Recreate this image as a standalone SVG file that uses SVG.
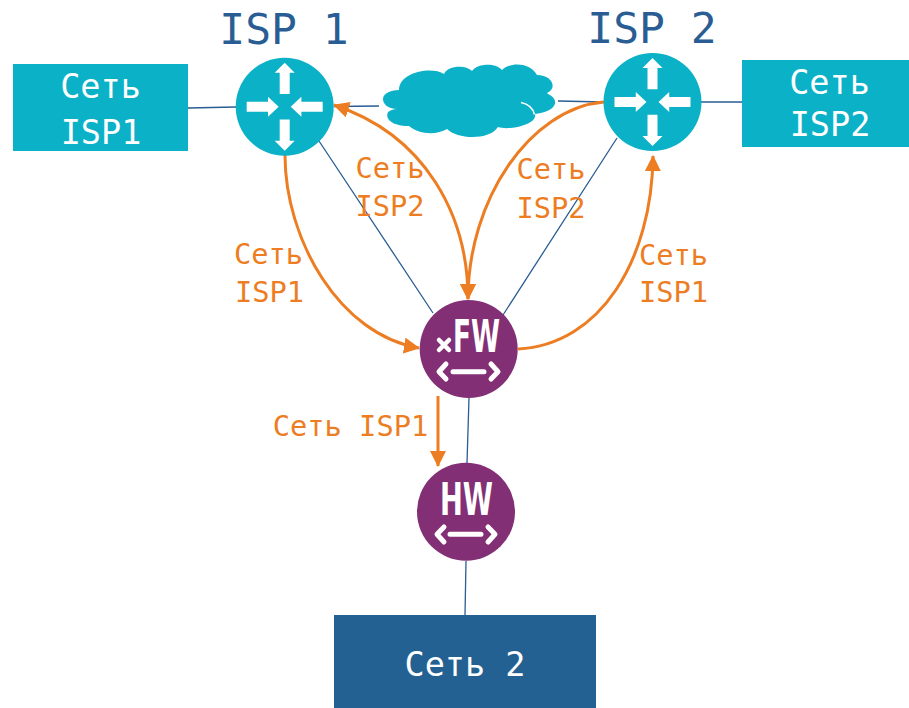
<svg xmlns="http://www.w3.org/2000/svg" width="909" height="708" viewBox="0 0 909 708">
<style>
text{font-family:"DejaVu Sans Mono","Liberation Mono",monospace;text-anchor:middle}
.title{font-size:43px;fill:#2a5d93}
.w{font-size:33.5px;fill:#fff}
.o{font-size:28.7px;fill:#ed7d22}
.icon{font-family:"DejaVu Sans","Liberation Sans",sans-serif;font-weight:bold;fill:#fff;font-size:45px}
.teal{fill:#0bb1c6}
.purple{fill:#822f75}
.blue{stroke:#2a5d93;stroke-width:1.3;fill:none}
.orange{stroke:#ed7d22;stroke-width:3;fill:none}
.glyph{stroke:#fff;fill:none;stroke-linecap:round;stroke-linejoin:round}
</style>
<defs>
<marker id="ah" viewBox="0 0 16 16" refX="15" refY="8" markerWidth="16" markerHeight="16" markerUnits="userSpaceOnUse" orient="auto-start-reverse"><path d="M0 0L16 8L0 16Z" fill="#ed7d22"/></marker>
<g id="arrows" fill="#fff">
<path d="M0-44L10-34H5V-12.7H-5V-34H-10Z"/>
<path d="M0 44L10 34H5V12.7H-5V34H-10Z"/>
<path d="M-6 0L-16.7-10V-5H-38V5H-16.7V10Z"/>
<path d="M6 0L16.7-10V-5H38V5H16.7V10Z"/>
</g>
</defs>
<g id="connectors">
<path class="blue" d="M188 108L236 107M334 106.5L379 106M558 101L604 102M701 102L742 102M319 141L433 313M617 138L503 315M469 398L467 463M466 561L465 615"/>
<path class="orange" marker-end="url(#ah)" d="M285 155C285 240 340 335 419 348"/>
<path class="orange" marker-start="url(#ah)" marker-end="url(#ah)" d="M468 299C468 215 425 135 334 105"/>
<path class="orange" marker-end="url(#ah)" d="M604 102C530 108 468 200 468 299"/>
<path class="orange" marker-end="url(#ah)" d="M518 349C600 345 652 260 653 156"/>
<path class="orange" marker-end="url(#ah)" d="M438 396L438 466"/>
</g>
<g id="net-isp1"><rect class="teal" x="13" y="64" width="175" height="87"/><text class="w" x="100.500" y="98">Сеть</text><text class="w" x="101" y="144">ISP1</text></g>
<g id="net-isp2"><rect class="teal" x="742" y="60" width="167" height="87"/><text class="w" x="829.500" y="94">Сеть</text><text class="w" x="830" y="136">ISP2</text></g>
<g id="net-2"><rect x="334" y="615" width="262" height="93" fill="#236192"/><text class="w" x="465" y="676">Сеть 2</text></g>
<g id="router-isp1"><text class="title" x="284" y="44">ISP 1</text><circle class="teal" cx="284.700" cy="106.700" r="49"/><use href="#arrows" x="284.700" y="106.700"/></g>
<g id="router-isp2"><text class="title" x="652" y="43">ISP 2</text><circle class="teal" cx="652.500" cy="102" r="49"/><use href="#arrows" x="652.500" y="102"/></g>
<g id="cloud"><path class="teal" d="M399 90C399 72 432 66 444 74C448 65 466 65 472 71C478 63 496 63 502 70C510 62 530 62 537 75C552 75 558 88 547 93L548 94C561 100 556 112 535 114C538 124 510 131 498 127C490 140 458 140 447 129C437 135 420 135 409 126C396 126 384 121 388 112C392 109 396 108.500 401 108.700C388 110 383 104 383 99C383 93 392 90 399 90Z"/><path d="M521 102.500C528 104 533 108 534.500 114.500" fill="none" stroke="#fff" stroke-width="1.500"/></g>
<g id="fw"><circle class="purple" cx="468.700" cy="349" r="49"/><text class="icon" x="476.500" y="351.500" textLength="47" lengthAdjust="spacingAndGlyphs">FW</text><path class="glyph" stroke-width="4.500" d="M439 340L449 350M449 340L439 350"/><path class="glyph" stroke-width="5" d="M453 371.700H484M446 364L439 371.700L446 379M491 364L498 371.700L491 379"/></g>
<g id="hw"><circle class="purple" cx="466" cy="511.700" r="49"/><text class="icon" x="466.500" y="515" textLength="53" lengthAdjust="spacingAndGlyphs">HW</text><path class="glyph" stroke-width="5" d="M450 534.300H481M444 527L437 534.300L444 542M488 527L495 534.300L488 542"/></g>
<g id="labels">
<text class="o" x="390" y="178">Сеть</text><text class="o" x="390" y="216">ISP2</text>
<text class="o" x="551" y="179">Сеть</text><text class="o" x="551" y="218">ISP2</text>
<text class="o" x="268.500" y="264">Сеть</text><text class="o" x="269.500" y="302">ISP1</text>
<text class="o" x="673.500" y="265">Сеть</text><text class="o" x="673.500" y="302">ISP1</text>
<text class="o" x="350.500" y="436">Сеть ISP1</text>
</g>
</svg>
